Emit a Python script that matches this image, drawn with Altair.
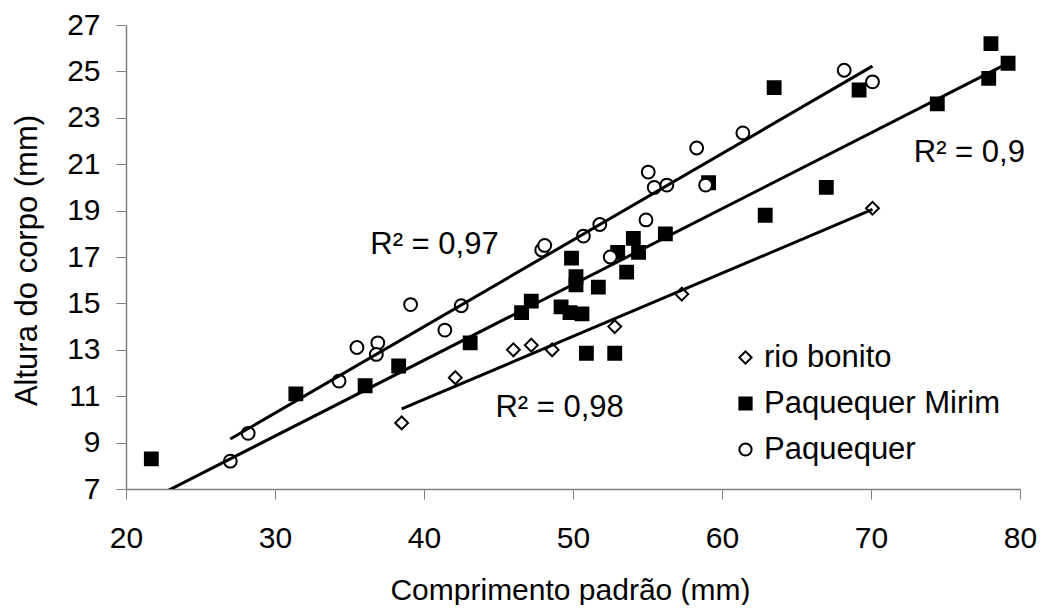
import altair as alt
import pandas as pd

# --- data ---
rb_x = [38.5, 42.1, 46.0, 47.2, 48.6, 52.8, 57.3, 70.1]
rb_y = [9.85, 11.8, 13.0, 13.2, 13.0, 14.0, 15.4, 19.1]

pm_x = [21.7, 31.4, 36.05, 38.3, 43.1, 46.55, 47.2, 49.2, 49.8, 50.6, 50.2, 51.7,
        50.9, 52.8, 49.9, 50.2, 53.6, 53.0, 54.05, 54.4, 56.2, 59.1, 63.5, 69.2,
        62.9, 67.0, 74.45, 77.9, 78.05, 79.2]
pm_y = [8.3, 11.1, 11.45, 12.3, 13.3, 14.6, 15.1, 14.85, 14.6, 14.55, 15.8, 15.7,
        12.85, 12.85, 16.95, 16.15, 16.35, 17.2, 17.8, 17.2, 18.0, 20.2, 24.3, 24.2,
        18.8, 20.0, 23.6, 24.7, 26.2, 25.35]

pq_x = [27.0, 28.2, 34.3, 35.5, 36.9, 36.8, 39.1, 41.4, 42.5, 47.9, 48.1, 50.7,
        51.8, 52.5, 54.9, 55.05, 55.45, 56.3, 58.3, 58.9, 61.4, 68.2, 70.1]
pq_y = [8.2, 9.4, 11.65, 13.1, 13.3, 12.8, 14.95, 13.85, 14.9, 17.3, 17.5, 17.9,
        18.4, 17.0, 18.6, 20.66, 20.0, 20.1, 21.7, 20.1, 22.35, 25.05, 24.55]

series_names = ["rio bonito", "Paquequer Mirim", "Paquequer"]
shapes = ["diamond", "square", "circle"]
fills = ["white", "black", "white"]
strokes = ["black", "black", "black"]

r2_text = ["R² = 0,97", "R² = 0,9", "R² = 0,98"]
r2_x = [40.7, 76.6, 49.1]
r2_y = [17.5, 21.5, 10.5]

x_ticks = [20, 30, 40, 50, 60, 70, 80]
y_ticks = [7, 9, 11, 13, 15, 17, 19, 21, 23, 25, 27]

rows = []
for name, xs, ys in zip(series_names, [rb_x, pm_x, pq_x], [rb_y, pm_y, pq_y]):
    for a, b in zip(xs, ys):
        rows.append({"series": name, "x": a, "y": b})
df = pd.DataFrame(rows)
lab = pd.DataFrame({"text": r2_text, "x": r2_x, "y": r2_y})

FONT = "Liberation Sans"

xs = alt.Scale(domain=[20, 80], nice=False, zero=False)
ys = alt.Scale(domain=[7, 27], nice=False, zero=False)

xaxis = alt.Axis(values=x_ticks, grid=False, title="Comprimento padrão (mm)",
                 labelFontSize=30, labelFont=FONT, labelColor="black",
                 labelBaseline="alphabetic", labelPadding=48, tickSize=10,
                 labelFlush=False, labelOverlap=False,
                 tickColor="#808080", domainColor="#808080", domainWidth=1.5,
                 titleFontSize=30, titleFont=FONT, titleFontWeight="normal",
                 titleColor="black", titleX=444, titleY=110,
                 titleBaseline="alphabetic", titleAlign="center")
yaxis = alt.Axis(values=y_ticks, grid=False, title="Altura do corpo (mm)",
                 labelFontSize=30, labelFont=FONT, labelColor="black",
                 labelPadding=16, tickSize=10, labelFlush=False, labelOverlap=False,
                 tickColor="#808080", domainColor="#808080", domainWidth=1.5,
                 titleFontSize=31, titleFont=FONT, titleFontWeight="normal",
                 titleColor="black", titleX=-90, titleY=235, titleAngle=-90,
                 titleBaseline="alphabetic", titleAlign="center")

legend = alt.Legend(title=None, orient="none", legendX=604, legendY=317,
                    labelFontSize=31, labelFont=FONT, labelColor="black",
                    labelLimit=500,
                    symbolSize=150, symbolStrokeWidth=2,
                    rowPadding=14, labelOffset=3)

points = alt.Chart(df).mark_point(filled=True, strokeWidth=2,
                                  size=165, opacity=1, fillOpacity=1).encode(
    x=alt.X("x:Q", scale=xs, axis=xaxis),
    y=alt.Y("y:Q", scale=ys, axis=yaxis),
    shape=alt.Shape("series:N", scale=alt.Scale(domain=series_names, range=shapes),
                    legend=legend),
    fill=alt.Fill("series:N", scale=alt.Scale(domain=series_names, range=fills),
                  legend=legend),
    stroke=alt.Stroke("series:N", scale=alt.Scale(domain=series_names, range=strokes),
                      legend=legend),
)

lines = alt.Chart(df).transform_regression(
    "x", "y", groupby=["series"]
).mark_line(color="black", strokeWidth=3, clip=True).encode(
    x=alt.X("x:Q", scale=xs),
    y=alt.Y("y:Q", scale=ys),
    detail="series:N",
)

texts = alt.Chart(lab).mark_text(font=FONT, fontSize=31, color="black",
                                 align="center", baseline="middle").encode(
    x=alt.X("x:Q", scale=xs),
    y=alt.Y("y:Q", scale=ys),
    text="text:N",
)

chart = alt.layer(points, lines, texts).properties(
    width=894, height=464,
    autosize=alt.AutoSizeParams(type="none"),
    padding={"left": 118, "top": 17, "right": 17, "bottom": 116},
    background="white",
).configure_view(stroke=None)

chart.save("out.html", embed_options={"renderer": "svg", "actions": False})
